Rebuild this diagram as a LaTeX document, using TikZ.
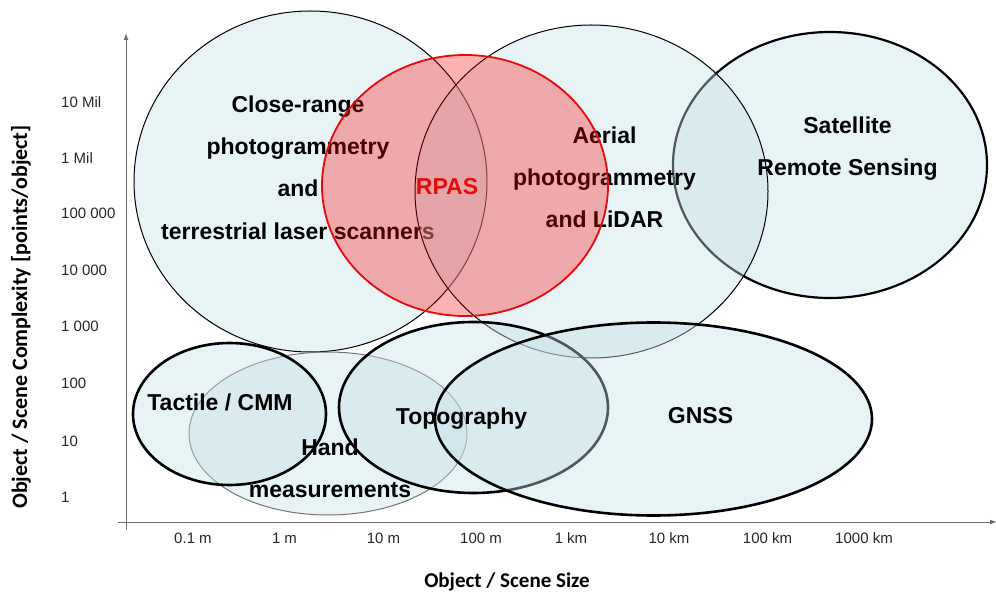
\documentclass[tikz,border=0pt]{standalone}
\usepackage{fontspec}
\setmainfont{Liberation Sans}
\newfontfamily\calib{Carlito}
\usetikzlibrary{shapes.geometric,arrows.meta}
\definecolor{ellblue}{RGB}{197,224,232}
\definecolor{rpasred}{RGB}{232,10,10}
\definecolor{axisgray}{RGB}{110,110,110}
\begin{document}
\begin{tikzpicture}[x=1pt,y=-1pt,
  zone/.style={ellipse, inner sep=0pt, fill=ellblue, fill opacity=0.4, draw=black},
  thinzone/.style={zone, line width=1pt},
  thickzone/.style={zone, line width=2.6pt},
  lbl/.style={font=\fontsize{23}{42.3}\selectfont\bfseries, align=center, inner sep=0pt, text=black},
  ytick/.style={font=\fontsize{15}{18}\selectfont, anchor=west, inner sep=0pt, text=black!85},
  xtick/.style={font=\fontsize{15}{18}\selectfont, inner sep=0pt, text=black!85},
  axtitle/.style={font=\calib\fontsize{21}{25}\selectfont\bfseries, inner sep=0pt},
  axis/.style={draw=axisgray, line width=1pt}
]
\useasboundingbox (0,0) rectangle (996,593);

% axes
\coordinate (yb) at (126,530);
\coordinate (yt) at (126,33);
\coordinate (xl) at (118,522);
\coordinate (xr) at (997,522);
\draw[axis, -{Latex[length=7pt,width=5pt]}] (yb) -- (yt);
\draw[axis, -{Latex[length=7pt,width=5pt]}] (xl) -- (xr);

% upper zones
\node[thinzone, minimum width=353, minimum height=341] (close) at (310.5,181.5) {};
\node[lbl] (closet) at (298,167.5) {Close-range\\photogrammetry\\and\\terrestrial laser scanners};
\node[zone, line width=2.2pt, minimum width=314, minimum height=266] (sat) at (830,165) {};
\node[thinzone, minimum width=353, minimum height=333] (aerial) at (591.5,191.5) {};
\node[lbl] (aerialt) at (604.5,177.3) {Aerial\\photogrammetry\\and LiDAR};
\node[lbl] (satt) at (847.5,148.6) {Satellite\\Remote Sensing};
\node[ellipse, inner sep=0pt, fill=red, fill opacity=0.3, draw=rpasred, line width=1.8pt, minimum width=286, minimum height=261] (rpas) at (465,185.5) {};
\node[lbl, text=rpasred] (rpast) at (447,186.7) {RPAS};

% lower zones
\node[zone, draw=black!55, line width=1pt, minimum width=278, minimum height=163] (hand) at (328,433.5) {};
\node[thickzone, minimum width=193, minimum height=142] (tact) at (229.5,414) {};
\node[thickzone, minimum width=269, minimum height=171] (topo) at (473.5,407.5) {};
\node[thickzone, minimum width=437, minimum height=193] (gnss) at (653.5,419) {};

\node[lbl] (tactt) at (220,402) {Tactile / CMM};
\node[lbl] (handt) at (330,468) {Hand\\measurements};
\node[lbl] (topot) at (461.5,418.5) {Topography};
\node[lbl] (gnsst) at (700.5,416) {GNSS};

% y tick labels
\node[ytick] (y7) at (61,101.7) {10 Mil};
\node[ytick] (y6) at (61,158) {1 Mil};
\node[ytick] (y5) at (61,213.5) {100 000};
\node[ytick] (y4) at (61,270) {10 000};
\node[ytick] (y3) at (61,326.7) {1 000};
\node[ytick] (y2) at (61,383.5) {100};
\node[ytick] (y1) at (61,441) {10};
\node[ytick] (y0) at (61,497) {1};

% x tick labels
\node[xtick] (x1) at (193,538) {0.1 m};
\node[xtick] (x2) at (284.5,538) {1 m};
\node[xtick] (x3) at (383.5,538) {10 m};
\node[xtick] (x4) at (481,538) {100 m};
\node[xtick] (x5) at (571,538) {1 km};
\node[xtick] (x6) at (669,538) {10 km};
\node[xtick] (x7) at (767.5,538) {100 km};
\node[xtick] (x8) at (864,538) {1000 km};

% axis titles
\node[axtitle] (xtitle) at (507,581.5) {Object / Scene Size};
\node[axtitle, font=\calib\fontsize{22}{26}\selectfont\bfseries, rotate=90] (ytitle) at (21,317) {Object / Scene Complexity [points/object]};
\end{tikzpicture}
\end{document}
